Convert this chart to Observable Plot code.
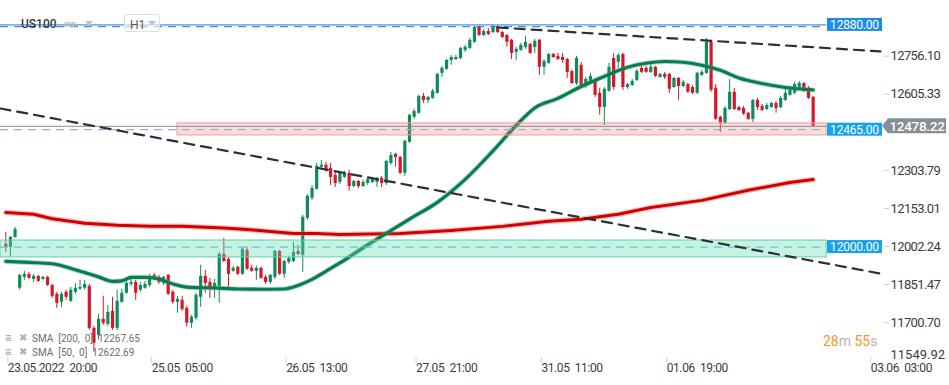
<!DOCTYPE html>
<html><head><meta charset="utf-8">
<script src="https://cdn.jsdelivr.net/npm/d3@7"></script>
<script src="https://cdn.jsdelivr.net/npm/@observablehq/plot@0.6"></script>
<style>
body{margin:0;background:#fff;font-family:Roboto,sans-serif;}
#wrap{position:relative;width:949px;height:385px;overflow:hidden;background:#fff;}
.ov{position:absolute;white-space:pre;line-height:1;}
svg [aria-label="y-axis tick label"] text{letter-spacing:-0.6px;}
svg [aria-label="x-axis tick label"] text{letter-spacing:-0.4px;}
</style></head><body><div id="wrap"></div>
<script>
// ---- Candles (US100, H1) ----
const opens = [12011,11999,12038,11837,11880,11892,11872,11884,11872,11880,11848,11813,11781,11821,11785,11821,11833,11837,11844,11678,11650,11714,11694,11745,11678,11781,11817,11852,11860,11829,11837,11848,11888,11880,11856,11888,11821,11781,11789,11757,11698,11718,11801,11884,11860,11833,11844,11971,11951,11904,11920,11892,11987,11916,11904,11916,11880,11860,11880,11983,11892,11939,11943,11983,11967,12114,12193,12229,12316,12324,12312,12284,12256,12276,12292,12240,12260,12240,12252,12256,12256,12272,12252,12331,12367,12355,12292,12415,12514,12530,12597,12581,12589,12609,12688,12704,12739,12743,12747,12779,12787,12811,12870,12838,12854,12850,12870,12850,12838,12819,12771,12779,12791,12803,12791,12819,12712,12728,12763,12755,12751,12743,12696,12648,12720,12636,12656,12656,12609,12553,12617,12747,12732,12763,12632,12640,12660,12708,12708,12692,12712,12672,12684,12684,12632,12668,12636,12644,12632,12609,12680,12688,12811,12629,12514,12490,12545,12613,12553,12549,12530,12506,12581,12557,12545,12553,12569,12553,12581,12601,12609,12625,12648,12629,12593];
const closes = [11999,12038,12070,11888,11892,11876,11884,11864,11880,11848,11805,11777,11813,11801,11829,11837,11840,11852,11678,11619,11714,11698,11741,11678,11785,11817,11856,11860,11817,11848,11852,11880,11872,11860,11880,11813,11781,11793,11753,11698,11722,11809,11884,11856,11840,11856,11971,11943,11892,11916,11892,11991,11912,11904,11916,11876,11860,11888,11983,11892,11943,11955,11979,11971,12118,12201,12232,12320,12324,12304,12276,12252,12292,12292,12240,12260,12240,12256,12268,12272,12272,12252,12339,12363,12355,12292,12419,12522,12537,12597,12581,12593,12617,12684,12708,12739,12751,12751,12787,12791,12819,12870,12838,12854,12842,12870,12850,12830,12811,12767,12783,12799,12811,12767,12815,12712,12735,12763,12751,12743,12739,12692,12648,12747,12640,12664,12676,12601,12553,12625,12712,12632,12759,12632,12644,12656,12696,12692,12692,12712,12676,12684,12672,12625,12668,12636,12652,12613,12609,12688,12692,12811,12621,12506,12490,12549,12613,12545,12541,12526,12506,12581,12553,12541,12561,12569,12549,12589,12609,12625,12644,12648,12617,12589,12478.22];
const highs = [12058,12042,12078,11892,11904,11900,11892,11888,11884,11884,11852,11821,11821,11829,11840,11856,11868,11868,11852,11686,11734,11805,11769,11801,11829,11833,11868,11872,11868,11860,11864,11892,11896,11888,11884,11892,11829,11805,11805,11765,11730,11817,11928,11908,11876,11872,11979,12035,11959,11924,11924,11995,11999,11928,11924,11920,11888,11892,11987,11987,11947,11963,12019,12007,12126,12209,12244,12331,12343,12335,12331,12296,12300,12300,12304,12264,12264,12264,12276,12276,12276,12280,12343,12375,12371,12359,12423,12526,12545,12601,12609,12597,12625,12688,12716,12743,12759,12759,12791,12799,12827,12874,12874,12862,12866,12878,12878,12854,12842,12823,12791,12807,12834,12807,12823,12823,12743,12767,12767,12767,12767,12747,12700,12755,12732,12672,12688,12664,12629,12632,12728,12767,12767,12767,12648,12664,12704,12716,12716,12728,12716,12688,12692,12688,12672,12672,12660,12648,12640,12692,12700,12827,12819,12644,12518,12557,12664,12629,12557,12557,12533,12585,12589,12565,12569,12573,12577,12597,12629,12636,12652,12656,12652,12636,12597];
const lows = [11979,11959,12035,11829,11868,11872,11860,11860,11868,11844,11797,11757,11761,11789,11781,11813,11829,11829,11670,11583,11631,11690,11686,11670,11670,11777,11813,11844,11789,11821,11833,11840,11868,11852,11848,11809,11773,11738,11745,11682,11678,11710,11761,11817,11797,11797,11777,11939,11840,11900,11888,11888,11908,11900,11868,11872,11852,11852,11872,11888,11876,11932,11939,11967,11900,12106,12185,12225,12304,12296,12244,12236,12248,12272,12221,12236,12232,12236,12244,12252,12236,12236,12244,12324,12316,12288,12280,12411,12506,12526,12569,12569,12585,12605,12672,12700,12720,12739,12743,12771,12783,12807,12834,12834,12838,12846,12846,12827,12791,12743,12739,12775,12783,12763,12767,12680,12680,12724,12747,12739,12728,12668,12644,12640,12629,12629,12648,12593,12522,12482,12613,12621,12708,12621,12625,12636,12656,12688,12688,12688,12672,12668,12664,12609,12629,12581,12632,12609,12605,12605,12676,12684,12613,12502,12454,12486,12541,12541,12537,12522,12502,12494,12541,12537,12541,12549,12530,12549,12577,12597,12605,12621,12613,12585,12475];

// ---- Moving averages (sampled along the drawn curves) ----
const sma50Idx = [0,5,10,15,20,23,25,27,30,33,35,40,45,50,55,60,63,66,69,72,77,82,87,93,99,105,110,114,119,124,130,134,138,142,146,150,154,158,163,168,174];
const sma50Val = [11943,11939,11934,11910,11882,11864,11866,11880,11880,11874,11860,11840,11838,11834,11833,11834,11848,11872,11904,11937,11997,12054,12111,12177,12268,12381,12482,12551,12589,12636,12684,12712,12728,12735,12732,12720,12700,12670,12648,12632,12622.69];
const sma200Idx = [0,6,10,17,24,31,38,47,52,57,62,67,72,85,96,107,117,124,132,139,150,160,169,174];
const sma200Val = [12137,12130,12112,12094,12086,12082,12082,12076,12070,12062,12054,12054,12050,12054,12066,12082,12102,12110,12130,12157,12185,12225,12256,12267.65];

// ---- Drawn annotations ----
const trendAIdx = [106, 188.5], trendAVal = [12870, 12775];
const trendBIdx = [-1.14, 188.5], trendBVal = [12549, 11895];
const greenZone = [11959, 12026];
const pinkZone = [12442, 12490];
const pinkZoneStartIdx = 37;
const zoneEndIdx = 176.9;
const levelTop = 12880, levelTopDash = 12873, levelMid = 12465, levelLow = 12000;
const lastPrice = 12478.22;

// ---- Axis ticks ----
const yTickVals = [12756.10,12605.33,12303.79,12153.01,12002.24,11851.47,11700.70];
const yTickBottom = [11549.92];
const xTickIdx = [0,31,60,88,115,142,186];
const NB = "\u00a0";
const xTickLabels = ["23.05.2022"+NB+NB+"20:00","25.05"+NB+NB+"05:00","26.05"+NB+NB+"13:00","27.05"+NB+NB+"21:00","31.05"+NB+NB+"11:00","01.06"+NB+NB+"19:00","03.06"+NB+NB+"03:00"];

const GREEN = "#0f8a5c", RED = "#d5172a";
const candles = opens.map((o,i)=>({i, open:o, close:closes[i], high:highs[i], low:lows[i]}));
const sma50 = sma50Idx.map((i,k)=>({i, v:sma50Val[k]}));
const sma200 = sma200Idx.map((i,k)=>({i, v:sma200Val[k]}));
const trendA = trendAIdx.map((i,k)=>({i, v:trendAVal[k]}));
const trendB = trendBIdx.map((i,k)=>({i, v:trendBVal[k]}));
const xLabel = new Map(xTickIdx.map((d,k)=>[d, xTickLabels[k]]));
const X0 = -1.14;

function tags(index, scales, values, dims) {
  const y = scales.y;
  const right = dims.width - dims.marginRight;
  const g = d3.create("svg:g").attr("font-family","Roboto");
  for (const v of [levelTop, levelMid, levelLow]) {
    const yc = y(v);
    g.append("rect").attr("x", right-56).attr("y", yc-6.5).attr("width",55).attr("height",13)
      .attr("fill", v===levelTop ? "#1a8ee6" : "#17a2ea");
    g.append("text").attr("x", right-28.5).attr("y", yc).attr("dy","0.36em").attr("text-anchor","middle")
      .attr("fill","#fff").attr("font-size",12).attr("letter-spacing",-0.2).text(v.toFixed(2));
  }
  const yc = y(lastPrice);
  g.append("path").attr("d",`M${right-1},${yc} L${right+5},${yc-7.5} H${right+63} V${yc+7.5} H${right+5} Z`).attr("fill","#868f95");
  g.append("text").attr("x", right+34).attr("y", yc).attr("dy","0.36em").attr("text-anchor","middle")
    .attr("fill","#fff").attr("font-size",13.5).attr("font-weight",500).attr("letter-spacing",-0.3).text(lastPrice.toFixed(2));
  return g.node();
}

const chart = Plot.plot({
  width: 949, height: 385,
  marginTop: 0, marginRight: 66, marginBottom: 25, marginLeft: 0,
  x: {type: "linear", domain: [X0, 189.16], label: null},
  y: {domain: [11550.7, 12976.7], label: null},
  style: {fontFamily: "Roboto", background: "white", overflow: "visible"},
  marks: [
    Plot.ruleX(candles, {x: "i", y1: "low", y2: "high", stroke: d => d.close >= d.open ? GREEN : RED, strokeWidth: 1}),
    Plot.ruleX(candles, {x: "i", y1: "open", y2: "close", stroke: d => d.close >= d.open ? GREEN : RED, strokeWidth: 3.2}),
    Plot.line(sma200, {x: "i", y: "v", stroke: "#f07a7a", strokeWidth: 5.5, strokeOpacity: 0.45}),
    Plot.line(sma200, {x: "i", y: "v", stroke: "#d20000", strokeWidth: 3}),
    Plot.line(sma50, {x: "i", y: "v", stroke: "#4aa57c", strokeWidth: 5, strokeOpacity: 0.4, curve: "monotone-x"}),
    Plot.line(sma50, {x: "i", y: "v", stroke: "#0a7d4f", strokeWidth: 3.2, curve: "monotone-x"}),
    Plot.rect([greenZone], {x1: X0, x2: zoneEndIdx, y1: d => d[0], y2: d => d[1], fill: "#62dcae", fillOpacity: 0.36, stroke: "#5fd3a6", strokeWidth: 1}),
    Plot.rect([pinkZone], {x1: pinkZoneStartIdx, x2: zoneEndIdx, y1: d => d[0], y2: d => d[1], fill: "#f07878", fillOpacity: 0.27, stroke: "#f0a0a0", strokeWidth: 1}),
    Plot.ruleY([levelTop], {x1: X0, x2: zoneEndIdx, stroke: "#3d9cf0", strokeWidth: 1.2}),
    Plot.ruleY([levelTopDash], {x1: X0, x2: zoneEndIdx, stroke: "#3a6aa6", strokeWidth: 1, strokeDasharray: "8,6"}),
    Plot.ruleY([lastPrice], {x1: X0, x2: zoneEndIdx, stroke: "#7d8ea3", strokeWidth: 1}),
    Plot.ruleY([levelMid], {x1: X0, x2: zoneEndIdx, stroke: "#8fb2da", strokeWidth: 1.2, strokeDasharray: "8,6"}),
    Plot.ruleY([levelLow], {x1: X0, x2: zoneEndIdx, stroke: "#62c3e3", strokeWidth: 1.2, strokeDasharray: "8,6"}),
    Plot.line(trendA, {x: "i", y: "v", stroke: "#2b2f36", strokeWidth: 2.2, strokeDasharray: "10,7"}),
    Plot.line(trendB, {x: "i", y: "v", stroke: "#2b2f36", strokeWidth: 2.2, strokeDasharray: "10,7"}),
    Plot.axisY(yTickVals, {anchor: "right", label: null, tickSize: 5, tickPadding: 2, fontSize: 13, stroke: "#cfcfcf", fill: "#3c3c3c", tickFormat: d => d.toFixed(2)}),
    Plot.text(yTickBottom, {y: d => d, frameAnchor: "right", dx: 7, dy: -6, textAnchor: "start", fontSize: 13, fill: "#3c3c3c", text: d => d.toFixed(2)}),
    Plot.axisX(xTickIdx, {anchor: "bottom", label: null, tickSize: 6, tickPadding: 0, dy: -3, dx: 2, textAnchor: "start", fontSize: 12, stroke: "#d4d4d4", fill: "#3c3c3c", tickFormat: d => xLabel.get(d)}),
    tags
  ]
});
const wrap = document.getElementById("wrap");
wrap.appendChild(chart);

// ---- Overlay texts ----
function ov(html, style){ const d=document.createElement("div"); d.className="ov"; d.style.cssText=style; d.innerHTML=html; wrap.appendChild(d); return d; }
ov("US100","left:21px;top:17px;font:500 12px Roboto;color:#383838;");
ov("IND","left:64px;top:20px;font:bold 7.5px Roboto;color:#b4b4b4;");
ov("","left:85px;top:21px;width:0;height:0;border-left:4px solid transparent;border-right:4px solid transparent;border-top:5px solid #c4c4c4;");
ov("","left:124px;top:14px;width:34px;height:16px;border:1px solid #dedede;border-radius:3px;background:rgba(255,255,255,0.6);");
ov("H1","left:130px;top:18px;font:12px Roboto;color:#5a5a5a;");
ov("","left:148px;top:21px;width:0;height:0;border-left:4px solid transparent;border-right:4px solid transparent;border-top:5px solid #c4c4c4;");

ov("≡","left:5px;top:331px;font:bold 12px Roboto;color:#a8a8a8;");
ov("✖","left:19px;top:332px;font:10px 'DejaVu Sans';color:#b0b0b0;");
ov("SMA  [200,  0]  12267.65","left:32px;top:333px;font:10px Roboto;color:#6e6e6e;");
ov("≡","left:5px;top:345px;font:bold 12px Roboto;color:#a8a8a8;");
ov("✖","left:19px;top:346px;font:10px 'DejaVu Sans';color:#b0b0b0;");
ov("SMA  [50,  0]  12622.69","left:32px;top:347px;font:10px Roboto;color:#6e6e6e;");

ov('<span style="color:#f7941d">28</span><span style="color:#b4b4b4">m </span><span style="color:#f7941d">55</span><span style="color:#b4b4b4">s</span>',"left:823px;top:333px;font:14px Roboto;");
</script>
</body></html>
